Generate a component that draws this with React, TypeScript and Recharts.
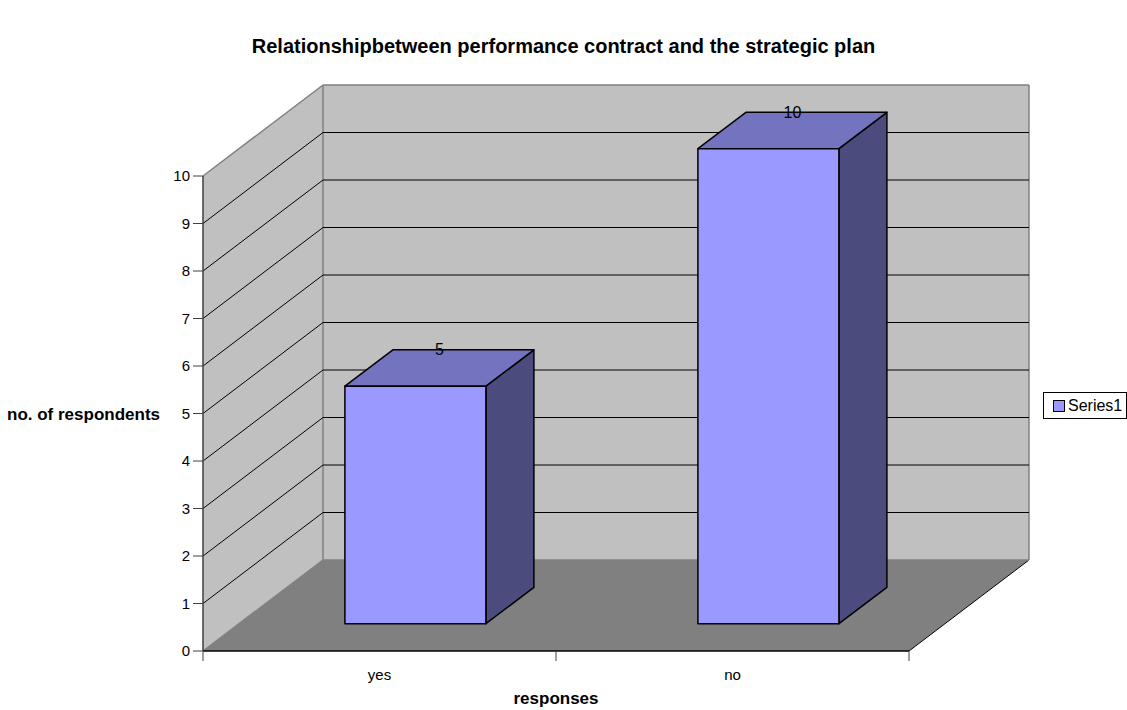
import { Bar, BarChart, CartesianGrid, LabelList, Legend, XAxis, YAxis } from 'recharts'

// responses to "is the performance contract related to the strategic plan?"
const categories = ['yes', 'no']
const counts = [5, 10]
const yTicks = [0, 1, 2, 3, 4, 5, 6, 7, 8, 9, 10]
const seriesName = 'Series1'

const data = categories.map((c, i) => ({ name: c, value: counts[i] }))

// plot box of the front plane, and the 3D depth offset of the back wall
const W = 1127
const H = 710
const TOP = 176
const BOTTOM = 651
const LEFT = 203
const RIGHT = 909
const DX = 120
const DY = 91
const BAND = (RIGHT - LEFT) / categories.length

// bars sit between 30% and 70% of the depth
const F0 = 0.3
const F1 = 0.7

const WALL = '#c0c0c0'
const FLOOR = '#808080'
const EDGE = '#808080'
const FRONT = '#9999ff'
const TOPFACE = '#7373bf'
const SIDE = '#4b4b7e'

const FONT = '"Liberation Sans", Arial, sans-serif'

// walls, floor and the gridlines that run along the left and back walls
function gridLine(props: any) {
  const { y1, index } = props
  const isEdge = Math.abs(y1 - BOTTOM) < 0.5 || Math.abs(y1 - TOP) < 0.5
  const c = isEdge ? EDGE : '#000'
  const w = isEdge ? 1.5 : 1
  return (
    <g key={`grid-${index}`}>
      {index === 0 && (
        <g>
          <polygon
            points={`${LEFT},${BOTTOM} ${LEFT + DX},${BOTTOM - DY} ${LEFT + DX},${TOP - DY} ${LEFT},${TOP}`}
            fill={WALL}
          />
          <rect x={LEFT + DX} y={TOP - DY} width={RIGHT - LEFT} height={BOTTOM - TOP} fill={WALL} />
          <polygon
            points={`${LEFT},${BOTTOM} ${RIGHT},${BOTTOM} ${RIGHT + DX},${BOTTOM - DY} ${LEFT + DX},${BOTTOM - DY}`}
            fill={FLOOR}
          />
          <line x1={LEFT + DX} y1={TOP - DY} x2={LEFT + DX} y2={BOTTOM - DY} stroke={EDGE} strokeWidth={1.5} />
          <line x1={RIGHT + DX} y1={TOP - DY} x2={RIGHT + DX} y2={BOTTOM - DY} stroke={EDGE} strokeWidth={1.5} />
          <line x1={RIGHT} y1={BOTTOM} x2={RIGHT + DX} y2={BOTTOM - DY} stroke="#000" strokeWidth={1} />
        </g>
      )}
      <line x1={LEFT} y1={y1} x2={LEFT + DX} y2={y1 - DY} stroke={c} strokeWidth={w} />
      <line x1={LEFT + DX} y1={y1 - DY} x2={RIGHT + DX} y2={y1 - DY} stroke={c} strokeWidth={w} />
    </g>
  )
}

function Box3D(props: any) {
  const { x, y, width, height } = props
  if (!height) return null
  const fx = x + F0 * DX
  const fy = y - F0 * DY
  const dx = (F1 - F0) * DX
  const dy = (F1 - F0) * DY
  const stroke = { stroke: '#000', strokeWidth: 1.5, strokeLinejoin: 'round' as const }
  return (
    <g>
      <polygon
        points={`${fx + width},${fy} ${fx + width + dx},${fy - dy} ${fx + width + dx},${fy + height - dy} ${fx + width},${fy + height}`}
        fill={SIDE}
        {...stroke}
      />
      <polygon
        points={`${fx},${fy} ${fx + dx},${fy - dy} ${fx + width + dx},${fy - dy} ${fx + width},${fy}`}
        fill={TOPFACE}
        {...stroke}
      />
      <rect x={fx} y={fy} width={width} height={height} fill={FRONT} {...stroke} />
    </g>
  )
}

function ValueLabel(props: any) {
  const { x, y, width, value } = props
  return (
    <text
      x={x + width / 2 + ((F0 + F1) / 2) * DX}
      y={y - F1 * DY}
      textAnchor="middle"
      dominantBaseline="central"
      fontSize={16}
      fill="#000"
      fontFamily={FONT}
    >
      {value}
    </text>
  )
}

function CategoryTick(props: any) {
  const { x, y, payload, index } = props
  return (
    <g>
      {index === 0 && <line x1={x - BAND / 2} y1={BOTTOM} x2={x - BAND / 2} y2={BOTTOM + 10} stroke="#404040" />}
      <line x1={x + BAND / 2} y1={BOTTOM} x2={x + BAND / 2} y2={BOTTOM + 10} stroke="#404040" />
      <text x={x} y={y} dy="0.71em" textAnchor="middle" fontSize={15} fill="#000" fontFamily={FONT}>
        {payload.value}
      </text>
    </g>
  )
}

function LegendBox() {
  return (
    <div
      style={{
        border: '1px solid #000',
        background: '#fff',
        width: 84,
        height: 27,
        display: 'flex',
        alignItems: 'center',
        boxSizing: 'border-box',
        paddingLeft: 9,
        fontSize: 16,
        fontFamily: FONT,
        color: '#000',
      }}
    >
      <span style={{ width: 10, height: 10, background: FRONT, border: '1px solid #000', marginRight: 3 }} />
      {seriesName}
    </div>
  )
}

export default function App() {
  return (
    <div style={{ position: 'absolute', left: 0, top: 0, width: W, height: H, background: '#fff', fontFamily: FONT }}>
      <div
        style={{
          position: 'absolute',
          left: 0,
          width: W,
          top: 34,
          textAlign: 'center',
          fontWeight: 'bold',
          fontSize: 20,
          lineHeight: '24px',
        }}
      >
        Relationshipbetween performance contract and the strategic plan
      </div>
      <BarChart
        width={W}
        height={H}
        data={data}
        margin={{ top: TOP, right: W - RIGHT, bottom: H - BOTTOM - 30, left: LEFT - 60 }}
        barCategoryGap="30%"
      >
        <CartesianGrid vertical={false} horizontal={gridLine} />
        <XAxis
          dataKey="name"
          height={30}
          axisLine={{ stroke: '#000', strokeWidth: 1.5 }}
          tickLine={false}
          tickSize={10}
          tickMargin={8}
          tick={CategoryTick}
          interval={0}
          label={{ value: 'responses', position: 'bottom', offset: 11, fontSize: 17, fontWeight: 'bold', fill: '#000' }}
        />
        <YAxis
          width={60}
          domain={[0, 10]}
          ticks={yTicks}
          interval={0}
          axisLine={{ stroke: '#404040', strokeWidth: 1.5 }}
          tickLine={{ stroke: '#404040' }}
          tickSize={10}
          tickMargin={3}
          tick={{ fontSize: 15, fill: '#000', fontFamily: FONT }}
          label={{ value: 'no. of respondents', position: 'left', offset: -17, fontSize: 17, fontWeight: 'bold', fill: '#000' }}
        />
        <Legend
          layout="vertical"
          align="center"
          verticalAlign="middle"
          wrapperStyle={{ left: 1043, top: 392, width: 84, height: 27 }}
          content={LegendBox}
        />
        <Bar dataKey="value" name={seriesName} fill={FRONT} shape={Box3D} isAnimationActive={false}>
          <LabelList dataKey="value" content={ValueLabel} />
        </Bar>
      </BarChart>
    </div>
  )
}
